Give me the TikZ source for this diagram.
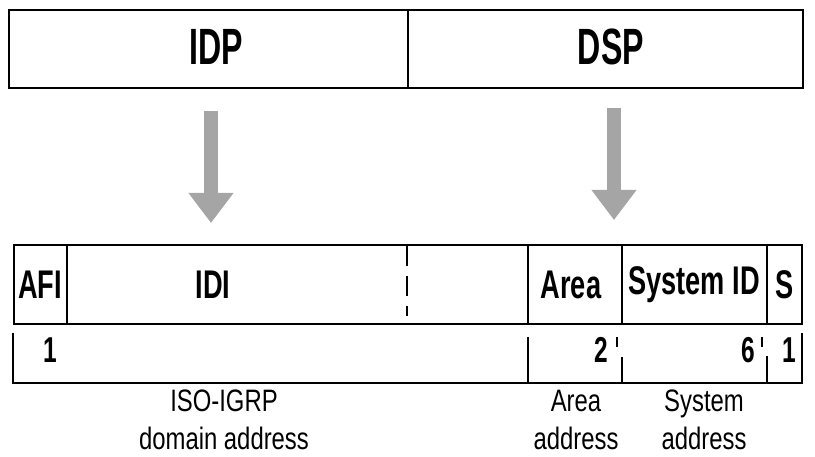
\documentclass[tikz,border=0pt]{standalone}
\usepackage{fontspec}
\setmainfont{Liberation Sans}[FakeStretch=0.72]
\newfontfamily\topfont{Liberation Sans}[FakeStretch=0.63]
\newfontfamily\fieldfont{Liberation Sans}[FakeStretch=0.68]
\newfontfamily\notefont{Liberation Sans}[FakeStretch=0.77]
\usetikzlibrary{arrows.meta}
\definecolor{arrowgray}{RGB}{165,165,165}

\begin{document}
\begin{tikzpicture}[
		x=1pt, y=-1pt,
		frame/.style={draw, line width=1.3pt, inner sep=0pt, minimum height=78pt},
		field/.style={draw, line width=1.3pt, inner sep=0pt, minimum height=79pt},
		top_text/.style={inner sep=0pt, font=\fontsize{51}{53}\selectfont\topfont\bfseries},
		field_text/.style={inner sep=0pt, font=\fontsize{40}{42}\selectfont\fieldfont\bfseries},
		num_text/.style={inner sep=0pt, font=\fontsize{36}{38}\selectfont\fieldfont\bfseries},
		note_text/.style={inner sep=0pt, anchor=north, align=center, font=\fontsize{31}{38}\selectfont\notefont},
		rule/.style={line width=1.3pt},
		bigarrow/.style={arrowgray, line width=14pt, -{Triangle[length=30pt, width=43pt]}}
		]
		\useasboundingbox (0,0) rectangle (815,457);
		
		% Top row: IDP | DSP
		\node[frame, minimum width=399pt] (idp) at (208.5,49) {};
		\node[frame, minimum width=395pt] (dsp) at (605.5,49) {};
		\node[top_text] (idplbl) at (216,46.5) {IDP};
		\node[top_text] (dsplbl) at (611,46.5) {DSP};
		
		% Field row
		\node[field, minimum width=53pt] (afi) at (40.5,284.5) {};
		\node[field, minimum width=461pt] (idi) at (297.5,284.5) {};
		\node[field, minimum width=94pt] (area) at (575,284.5) {};
		\node[field, minimum width=145pt] (sysid) at (694.5,284.5) {};
		\node[field, minimum width=35pt] (sel) at (784.5,284.5) {};
		\node[field_text] (afilbl) at (40,285) {AFI};
		\node[field_text] (idilbl) at (213,285) {IDI};
		\node[field_text] (arealbl) at (571,285) {Area};
		\node[field_text] (sysidlbl) at (694,285) {System ID};
		\node[field_text] (sellbl) at (785,285) {S};
		\draw[rule, dash pattern=on 20pt off 10pt] (407,246) -- (407,316);
		
		% Arrows
		\coordinate (idpArr) at (211,111);
		\coordinate (idpTip) at (211,223);
		\coordinate (dspArr) at (614,108);
		\coordinate (dspTip) at (614,220);
		\draw[bigarrow] (idpArr) -- (idpTip);
		\draw[bigarrow] (dspArr) -- (dspTip);
		
		% Length row
		\draw[rule] (13,333) -- (13,383) -- (802,383) -- (802,333);
		\draw[rule] (528,337) -- (528,383);
		\draw[rule] (622,357) -- (622,383);
		\draw[rule] (767,356) -- (767,383);
		\draw[rule] (617,337) -- (617,347);
		\draw[rule] (762,337) -- (762,347);
		\node[num_text] (lenafi) at (50,350) {1};
		\node[num_text] (lenarea) at (601,350) {2};
		\node[num_text] (lensys) at (748,350) {6};
		\node[num_text] (lensel) at (789,350) {1};
		
		% Notes below
		\node[note_text] (isonote) at (224,389.5) {ISO-IGRP\\domain address};
		\node[note_text] (areanote) at (576,389.5) {Area\\address};
		\node[note_text] (sysnote) at (704,389.5) {System\\address};
		
	\end{tikzpicture}
\end{document}
